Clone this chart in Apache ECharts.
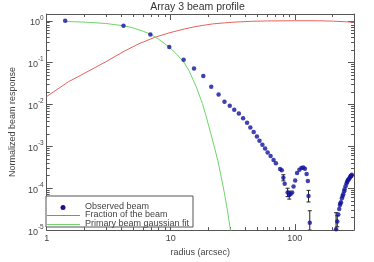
<!DOCTYPE html>
<html><head><meta charset="utf-8">
<script src="https://cdn.jsdelivr.net/npm/echarts@6/dist/echarts.min.js"></script>
<style>html,body{margin:0;padding:0;background:#fff}#c{width:374px;height:262px}</style>
</head><body><div id="c"></div>
<script>
const titleText = 'Array 3 beam profile';
const xName = 'radius (arcsec)';
const yName = 'Normalized beam response';
const legendNames = ['Observed beam', 'Fraction of the beam', 'Primary beam gaussian fit'];

const xMajorTicks = [1, 10, 100];
const xTickLabels = ['1', '10', '100'];
const xMinorTicks = [2, 3, 4, 5, 6, 7, 8, 9, 20, 30, 40, 50, 60, 70, 80, 90, 200, 300];
const yMajorTicks = [1e-5, 1e-4, 1e-3, 1e-2, 1e-1, 1];
const yTickExponents = ['-5', '-4', '-3', '-2', '-1', '0'];
const yMinorTicks = [
  2e-5, 3e-5, 4e-5, 5e-5, 6e-5, 7e-5, 8e-5, 9e-5,
  2e-4, 3e-4, 4e-4, 5e-4, 6e-4, 7e-4, 8e-4, 9e-4,
  2e-3, 3e-3, 4e-3, 5e-3, 6e-3, 7e-3, 8e-3, 9e-3,
  2e-2, 3e-2, 4e-2, 5e-2, 6e-2, 7e-2, 8e-2, 9e-2,
  0.2, 0.3, 0.4, 0.5, 0.6, 0.7, 0.8, 0.9
];

// Observed beam
const obsX = [1.41, 4.16, 6.85, 9.73, 12.7, 15.4, 18.3, 21.2, 24.3, 27.1, 29.9, 32.5, 35.4, 38.3, 41.2, 43.8, 46.6, 49.5, 51.9, 54.8, 57.6, 60.4, 63.8, 67.4, 70.4, 76.1, 78.5, 80.9, 82.9, 87.5, 90.2, 92.5, 95.2, 97.7, 100.7, 104.3, 108.9, 113, 117, 120.6, 124.5, 127.4, 129, 132,
  215, 220, 224, 228, 231, 233, 235.5, 239.5, 243, 245.5, 250, 252, 256.5, 261, 264, 267, 270, 274, 278, 281, 283, 286, 288];
const obsY = [1.0, 0.765, 0.472, 0.236, 0.117, 0.0725, 0.048, 0.0267, 0.0174, 0.0117, 0.0093, 0.0075, 0.0061, 0.0047, 0.00367, 0.00281, 0.00219, 0.00171, 0.00136, 0.0011, 0.000885, 0.000713, 0.000585, 0.000472, 0.000395, 0.000287, 0.00027, 0.000177, 0.000128, 0.000079, 0.000069, 0.000073, 0.000079, 0.00011, 0.000153, 0.000232, 0.000277, 0.000303, 0.000313, 0.00029, 0.00022, 0.000148, 0.000065, 0.000015,
  1.05e-5, 1.6e-5, 2.35e-5, 3.2e-5, 4.0e-5, 4.3e-5, 4.65e-5, 5.75e-5, 6.5e-5, 7.2e-5, 8.5e-5, 9.5e-5, 1.11e-4, 1.29e-4, 1.4e-4, 1.53e-4, 1.6e-4, 1.68e-4, 1.8e-4, 1.9e-4, 1.95e-4, 2.0e-4, 2.1e-4];

// Error bars: radius, low, high
const errX = [80.9, 87.5, 90.2, 129, 132, 215, 220];
const errLow = [1.5e-4, 6.3e-5, 5.5e-5, 4.7e-5, 1.0e-5, 1.0e-5, 1.2e-5];
const errHigh = [2.1e-4, 1.0e-4, 8.5e-5, 8.9e-5, 2.9e-5, 2.6e-5, 2.2e-5];

// Fraction of the beam
const fracX = [1, 1.5, 2, 3, 4.21, 5.5, 7.4, 9.85, 13, 16, 21.7, 27, 33, 45, 60, 100, 150, 200, 250, 300];
const fracY = [0.0155, 0.035, 0.055, 0.105, 0.187, 0.28, 0.4, 0.52, 0.64, 0.73, 0.84, 0.89, 0.93, 0.97, 0.99, 1.0, 1.0, 0.98, 0.95, 0.92];

// Primary beam gaussian fit
const gaussX = [1.41, 2, 3, 4.16, 5, 6, 6.85, 8, 9.73, 11, 12.7, 14, 16, 18, 19.2, 20, 22.4, 24, 25.2, 27, 28.5, 30.3, 31];
const gaussY = [0.96, 0.93, 0.86, 0.76, 0.67, 0.56, 0.48, 0.36, 0.235, 0.165, 0.105, 0.065, 0.027, 0.0105, 0.0055, 0.0035, 0.001, 0.00045, 0.00022, 0.00008, 0.000032, 0.00001, 0.000007];

const X_MIN = 1, X_MAX = 300, Y_MIN = 1e-5, Y_MAX = 1.45;
const AX = '#555', TXT = '#444', FONT = 'Liberation Sans';
const C_OBS = '#12129c', C_FRAC = '#e8625c', C_GAUSS = '#6fd46a';

function zip(a, b) { return a.map((v, i) => [v, b[i]]); }

function xAxisDef(pos, ticks, len, withLine, withLabels) {
  return {
    type: 'log', logBase: 10, min: X_MIN, max: X_MAX, position: pos,
    axisLine: { show: withLine, lineStyle: { color: AX, width: 1 } },
    axisTick: { show: true, inside: true, length: len, customValues: ticks, lineStyle: { color: AX, width: 1 } },
    axisLabel: withLabels ? {
      show: true, customValues: xMajorTicks, margin: 4, color: TXT, fontSize: 9, fontFamily: FONT,
      formatter: v => xTickLabels[xMajorTicks.findIndex(t => Math.abs(Math.log10(t) - Math.log10(v)) < 1e-6)] || ''
    } : { show: false },
    splitLine: { show: false }, minorTick: { show: false },
    name: withLabels ? xName : '', nameLocation: 'middle', nameGap: 17,
    nameTextStyle: { color: TXT, fontSize: 9, fontFamily: FONT }
  };
}
function yAxisDef(pos, ticks, len, withLine, withLabels) {
  return {
    type: 'log', logBase: 10, min: Y_MIN, max: Y_MAX, position: pos,
    axisLine: { show: withLine, lineStyle: { color: AX, width: 1 } },
    axisTick: { show: true, inside: true, length: len, customValues: ticks, lineStyle: { color: AX, width: 1 } },
    axisLabel: withLabels ? {
      show: true, customValues: yMajorTicks, margin: 3, color: TXT, fontFamily: FONT,
      formatter: v => {
        const i = yMajorTicks.findIndex(t => Math.abs(Math.log10(t) - Math.log10(v)) < 1e-6);
        return i < 0 ? '' : '{b|10}{s|' + yTickExponents[i] + '}';
      },
      rich: {
        b: { fontSize: 9, color: TXT, fontFamily: FONT, verticalAlign: 'bottom', lineHeight: 13 },
        s: { fontSize: 6.5, color: TXT, fontFamily: FONT, verticalAlign: 'top', lineHeight: 13 }
      }
    } : { show: false },
    splitLine: { show: false }, minorTick: { show: false },
    name: withLabels ? yName : '', nameLocation: 'middle', nameGap: 27,
    nameTextStyle: { color: TXT, fontSize: 9, fontFamily: FONT }
  };
}

const chart = echarts.init(document.getElementById('c'), null, { renderer: 'canvas' });
const LX = 46, LY = 196, LW = 147, LH = 31;
chart.setOption({
  animation: false,
  backgroundColor: '#fff',
  grid: { left: 41, right: 20, top: 14, bottom: 26, containLabel: false },
  xAxis: [
    xAxisDef('bottom', xMajorTicks, 6, true, true),
    xAxisDef('bottom', xMinorTicks, 3, false, false),
    xAxisDef('top', xMajorTicks, 6, true, false),
    xAxisDef('top', xMinorTicks, 3, false, false)
  ],
  yAxis: [
    yAxisDef('left', yMajorTicks, 6, true, true),
    yAxisDef('left', yMinorTicks, 3, false, false),
    yAxisDef('right', yMajorTicks, 6, true, false),
    yAxisDef('right', yMinorTicks, 3, false, false)
  ],
  series: [
    { type: 'line', name: legendNames[1], data: zip(fracX, fracY), showSymbol: false, symbol: 'none',
      lineStyle: { color: C_FRAC, width: 1 }, clip: true, z: 2 },
    { type: 'line', name: legendNames[2], data: zip(gaussX, gaussY), showSymbol: false, symbol: 'none',
      lineStyle: { color: C_GAUSS, width: 1 }, clip: true, z: 2 },
    { type: 'custom', name: 'err', data: errX.map((x, i) => [x, errLow[i], errHigh[i]]),
      encode: { x: 0, y: [1, 2] }, clip: true, z: 3,
      renderItem: (params, api) => {
        const x = api.value(0);
        const p1 = api.coord([x, api.value(1)]);
        const p2 = api.coord([x, api.value(2)]);
        const st = { stroke: '#222', lineWidth: 1 };
        return { type: 'group', children: [
          { type: 'line', shape: { x1: p1[0], y1: p1[1], x2: p2[0], y2: p2[1] }, style: st },
          { type: 'line', shape: { x1: p1[0] - 2, y1: p1[1], x2: p1[0] + 2, y2: p1[1] }, style: st },
          { type: 'line', shape: { x1: p2[0] - 2, y1: p2[1], x2: p2[0] + 2, y2: p2[1] }, style: st }
        ] };
      } },
    { type: 'scatter', name: legendNames[0], data: zip(obsX, obsY), symbol: 'circle', symbolSize: 4.5,
      itemStyle: { color: C_OBS }, clip: true, z: 4 }
  ],
  graphic: [
    { type: 'text', x: 197.5, y: 7, z: 10,
      style: { text: titleText, fill: '#333', font: '10.5px "Liberation Sans"', align: 'center', verticalAlign: 'middle' } },
    { type: 'rect', x: LX, y: LY, shape: { width: LW, height: LH }, z: 10,
      style: { fill: '#fff', stroke: '#555', lineWidth: 1 } },
    { type: 'circle', x: 63, y: 207.5, shape: { r: 2.5 }, z: 11, style: { fill: C_OBS } },
    { type: 'line', shape: { x1: 47, y1: 215.5, x2: 80, y2: 215.5 }, z: 11, style: { stroke: C_FRAC, lineWidth: 1 } },
    { type: 'line', shape: { x1: 47, y1: 224.5, x2: 80, y2: 224.5 }, z: 11, style: { stroke: C_GAUSS, lineWidth: 1 } },
    { type: 'text', x: 85, y: 207, z: 11, style: { text: legendNames[0], fill: TXT, font: '9px "Liberation Sans"', verticalAlign: 'middle' } },
    { type: 'text', x: 85, y: 215, z: 11, style: { text: legendNames[1], fill: TXT, font: '9px "Liberation Sans"', verticalAlign: 'middle' } },
    { type: 'text', x: 85, y: 223.5, z: 11, style: { text: legendNames[2], fill: TXT, font: '9px "Liberation Sans"', verticalAlign: 'middle' } }
  ]
});
</script>
</body></html>
